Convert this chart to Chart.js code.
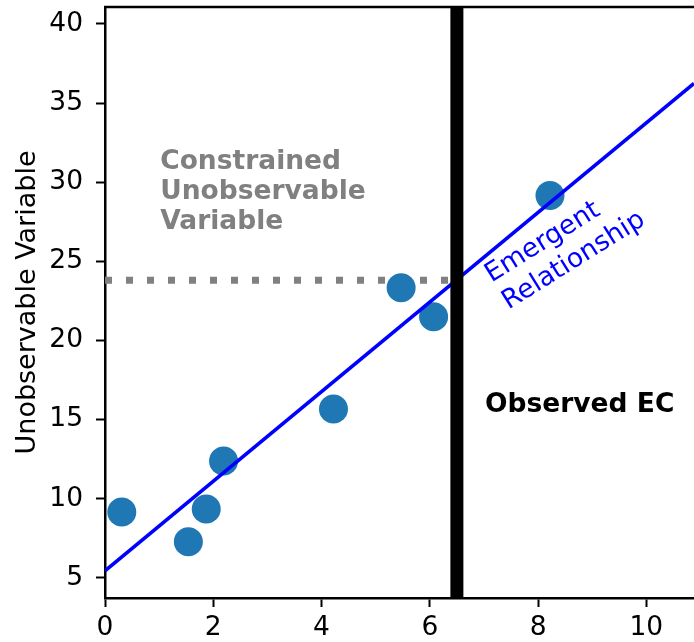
<!DOCTYPE html>
<html lang="en">
<head>
    <meta charset="UTF-8">
    <title>Emergent Constraint</title>
    <script src="https://cdn.jsdelivr.net/npm/chart.js"></script>
    <style>
        body { margin: 0; background: #fff; }
        canvas { display: block; }
    </style>
</head>
<body>
<canvas id="chartEC" width="694" height="642"></canvas>

<script>
    // model values (observable x, unobservable y)
    const modelX = [0.31, 1.54, 1.87, 2.19, 4.22, 5.47, 6.07, 8.22];
    const modelY = [9.16, 7.27, 9.35, 12.38, 15.67, 23.32, 21.50, 29.16];

    // emergent relationship, read at the two ends of the axis
    const fitX = [0, 10.88];
    const fitY = [5.44, 36.24];

    // observed constraint and the value it gives
    const observedX = 6.5;
    const constrainedY = 23.8;

    // axis range and ticks
    const xRange = [0, 10.88];
    const yRange = [3.72, 41.07];
    const xTicks = [0, 2, 4, 6, 8, 10];
    const yTicks = [5, 10, 15, 20, 25, 30, 35, 40];

    const FONT = 'DejaVu Sans';

    function toPoints(xs, ys) {
        return xs.map((x, i) => ({ x: x, y: ys[i] }));
    }

    // texts and spine on top
    const extras = {
        id: 'extras',
        afterDatasetsDraw(chart) {
            const { ctx, chartArea, scales } = chart;
            const sx = scales.x, sy = scales.y;
            ctx.save();

            // top spine
            ctx.strokeStyle = '#000';
            ctx.lineWidth = 2.5;
            ctx.beginPath();
            ctx.moveTo(chartArea.left - 1, chartArea.top);
            ctx.lineTo(chartArea.right, chartArea.top);
            ctx.stroke();

            ctx.textBaseline = 'alphabetic';
            ctx.textAlign = 'left';

            // grey label
            ctx.fillStyle = '#808080';
            ctx.font = 'bold 26.5px ' + FONT;
            const cx = sx.getPixelForValue(1.02);
            const cy = sy.getPixelForValue(30.82);
            ['Constrained', 'Unobservable', 'Variable'].forEach((t, i) => {
                ctx.fillText(t, cx, cy + i * 30);
            });

            // observed label
            ctx.fillStyle = '#000';
            ctx.font = 'bold 26.5px ' + FONT;
            ctx.fillText('Observed EC', sx.getPixelForValue(7.02), sy.getPixelForValue(15.5));

            // rotated blue label
            ctx.fillStyle = '#0000ff';
            ctx.font = '26.5px ' + FONT;
            ctx.translate(sx.getPixelForValue(7.14), sy.getPixelForValue(23.65));
            ctx.rotate(-32 * Math.PI / 180);
            ctx.fillText('Emergent', 0, 0);
            ctx.fillText('Relationship', 0, 32);

            ctx.restore();
        }
    };

    new Chart(document.getElementById('chartEC'), {
        type: 'scatter',
        data: {
            datasets: [
                {
                    label: 'constrained',
                    data: toPoints([xRange[0], observedX], [constrainedY, constrainedY]),
                    showLine: true,
                    borderColor: '#808080',
                    borderWidth: 7,
                    borderDash: [7, 14],
                    borderCapStyle: 'butt',
                    pointRadius: 0,
                    order: 4
                },
                {
                    label: 'models',
                    data: toPoints(modelX, modelY),
                    backgroundColor: '#1f77b4',
                    borderColor: '#1f77b4',
                    borderWidth: 0,
                    pointRadius: 14.5,
                    pointHoverRadius: 14.5,
                    order: 3
                },
                {
                    label: 'fit',
                    data: toPoints(fitX, fitY),
                    showLine: true,
                    borderColor: '#0000ff',
                    borderWidth: 3.5,
                    pointRadius: 0,
                    order: 2
                },
                {
                    label: 'observed',
                    data: toPoints([observedX, observedX], yRange),
                    showLine: true,
                    borderColor: '#000',
                    borderWidth: 13,
                    borderCapStyle: 'butt',
                    pointRadius: 0,
                    order: 1
                }
            ]
        },
        options: {
            responsive: false,
            animation: false,
            events: [],
            layout: { autoPadding: false, padding: { top: 7, left: 0, right: 0, bottom: 0 } },
            plugins: {
                legend: { display: false },
                tooltip: { enabled: false }
            },
            scales: {
                x: {
                    type: 'linear',
                    min: xRange[0],
                    max: xRange[1],
                    afterBuildTicks: s => { s.ticks = xTicks.map(v => ({ value: v })); },
                    afterFit: s => {
                        s.height = 44;
                        s.paddingLeft = 0;
                        s.paddingRight = 0;
                    },
                    ticks: {
                        color: '#000',
                        font: { family: FONT, size: 26.5 },
                        padding: 5,
                        maxRotation: 0
                    },
                    grid: {
                        drawOnChartArea: false,
                        drawTicks: true,
                        tickLength: 9,
                        tickWidth: 2,
                        tickColor: '#000'
                    },
                    border: { color: '#000', width: 2.5 }
                },
                y: {
                    type: 'linear',
                    min: yRange[0],
                    max: yRange[1],
                    afterBuildTicks: s => { s.ticks = yTicks.map(v => ({ value: v })); },
                    afterFit: s => {
                        s.width = 105;
                        s.paddingTop = 0;
                        s.paddingBottom = 0;
                    },
                    title: {
                        display: true,
                        text: 'Unobservable Variable',
                        color: '#000',
                        font: { family: FONT, size: 27 },
                        padding: { top: 12, bottom: 0 }
                    },
                    ticks: {
                        color: '#000',
                        font: { family: FONT, size: 26.5 },
                        padding: 13
                    },
                    grid: {
                        drawOnChartArea: false,
                        drawTicks: true,
                        tickLength: 9,
                        tickWidth: 2,
                        tickColor: '#000'
                    },
                    border: { color: '#000', width: 2.5 }
                }
            }
        },
        plugins: [extras]
    });
</script>
</body>
</html>
